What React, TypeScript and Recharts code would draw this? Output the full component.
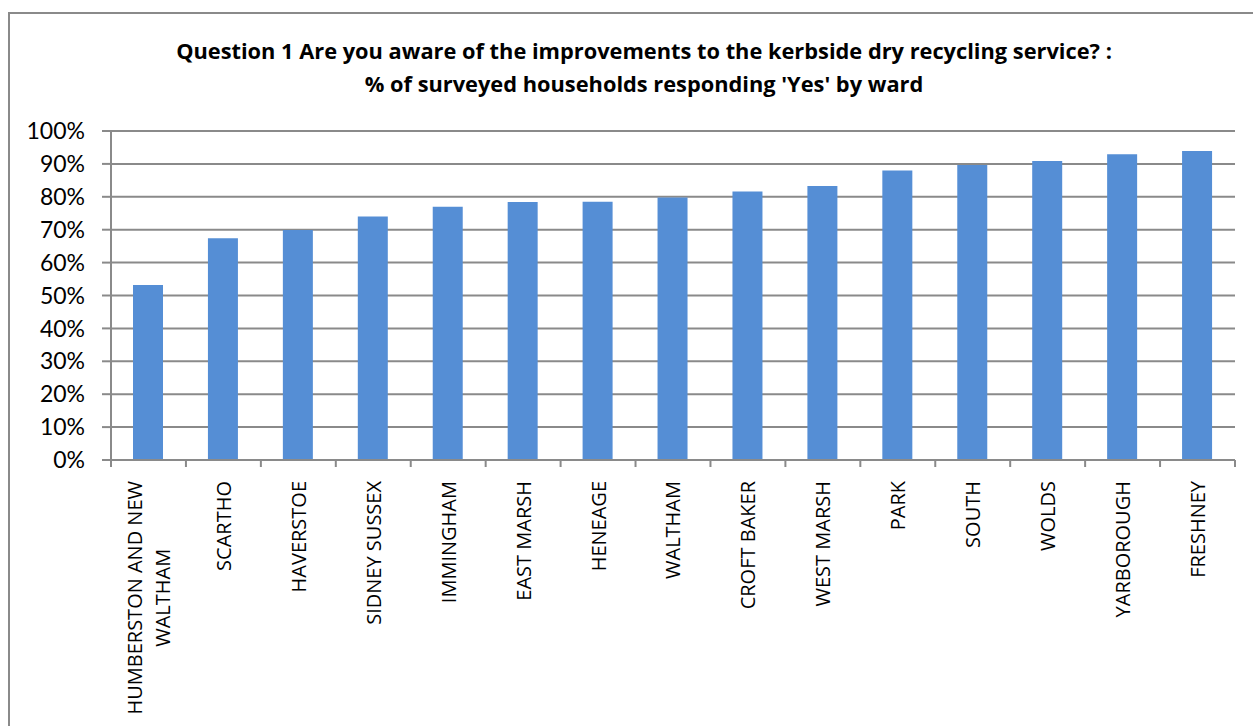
import React from 'react'
import { BarChart, Bar, XAxis, YAxis, CartesianGrid } from 'recharts'

const wards = [
  'HUMBERSTON AND NEW WALTHAM',
  'SCARTHO',
  'HAVERSTOE',
  'SIDNEY SUSSEX',
  'IMMINGHAM',
  'EAST MARSH',
  'HENEAGE',
  'WALTHAM',
  'CROFT BAKER',
  'WEST MARSH',
  'PARK',
  'SOUTH',
  'WOLDS',
  'YARBOROUGH',
  'FRESHNEY',
]
const yesPct = [53.2, 67.4, 69.9, 74.0, 77.0, 78.4, 78.5, 79.8, 81.6, 83.3, 88.0, 89.7, 90.9, 92.9, 93.9]
const pctTicks = [0, 10, 20, 30, 40, 50, 60, 70, 80, 90, 100]
const titleLines = [
  'Question 1 Are you aware of the improvements to the kerbside dry recycling service? :',
  "% of surveyed households responding 'Yes' by ward",
]

const data = wards.map((ward, i) => ({ ward, yes: yesPct[i] }))

const W = 1253
const H = 726
const PLOT_LEFT = 111
const PLOT_RIGHT = 1235
const PLOT_TOP = 131
const PLOT_BOTTOM = 460
const GREY = '#8a8a8a'
const LABEL_SIZE = 20
const LABEL_FONT = `${LABEL_SIZE}px 'Open Sans'`

let ctx: CanvasRenderingContext2D | null = null
function measure(s: string) {
  if (!ctx) ctx = document.createElement('canvas').getContext('2d')
  if (!ctx) return s.length * LABEL_SIZE * 0.62
  ctx.font = LABEL_FONT
  return ctx.measureText(s).width
}

// excel-ish word wrap of long category names
function wrap(text: string, maxW: number) {
  const words = text.split(' ')
  const lines: string[] = []
  let cur = ''
  for (const w of words) {
    const next = cur ? cur + ' ' + w : w
    if (cur && measure(next) > maxW) {
      lines.push(cur)
      cur = w
    } else cur = next
  }
  if (cur) lines.push(cur)
  return lines
}

function WardTick(props: any) {
  const { x, y, payload, index } = props
  const band = (PLOT_RIGHT - PLOT_LEFT) / wards.length
  const lines = wrap(String(payload.value), 280)
  const longest = Math.max(...lines.map(measure))
  const lineH = 28.7
  const cy = y + 21 + longest / 2
  return (
    <g>
      <line x1={x - band / 2} x2={x - band / 2} y1={y} y2={y + 7} stroke={GREY} strokeWidth={2} />
      {index === wards.length - 1 && (
        <line x1={x + band / 2} x2={x + band / 2} y1={y} y2={y + 7} stroke={GREY} strokeWidth={2} />
      )}
      <text
        transform={`rotate(-90, ${x}, ${cy})`}
        x={x}
        y={cy}
        textAnchor="middle"
        fontFamily="'Open Sans'"
        fontSize={LABEL_SIZE}
        fill="#000"
      >
        {lines.map((l, i) => (
          <tspan key={i} x={x} y={cy + (i - (lines.length - 1) / 2) * lineH} dominantBaseline="central">
            {l}
          </tspan>
        ))}
      </text>
    </g>
  )
}

export default function App() {
  return (
    <div style={{ position: 'absolute', left: 0, top: 0, width: W, height: H, overflow: 'hidden', background: '#fff' }}>
      <div
        style={{
          position: 'absolute',
          left: 8,
          top: 12,
          width: W,
          height: H,
          borderLeft: `2px solid ${GREY}`,
          borderTop: `2px solid ${GREY}`,
        }}
      />
      <svg width={W} height={110} style={{ position: 'absolute', left: 0, top: 0 }}>
        {titleLines.map((t, i) => (
          <text
            key={i}
            x={644}
            y={59 + i * 33}
            textAnchor="middle"
            fontFamily="'Open Sans'"
            fontWeight="bold"
            fontSize={21.8}
            fill="#000"
          >
            {t}
          </text>
        ))}
      </svg>
      <div style={{ position: 'absolute', left: 0, top: 0 }}>
        <BarChart
          width={W}
          height={H}
          data={data}
          margin={{ top: PLOT_TOP, right: W - PLOT_RIGHT, bottom: 0, left: 0 }}
        >
          <CartesianGrid vertical={false} stroke={GREY} strokeWidth={2} />
          <XAxis
            dataKey="ward"
            interval={0}
            height={H - PLOT_BOTTOM}
            tickSize={0}
            tickMargin={0}
            tickLine={false}
            axisLine={{ stroke: GREY, strokeWidth: 2 }}
            tick={<WardTick />}
          />
          <YAxis
            width={PLOT_LEFT}
            domain={[0, 100]}
            ticks={pctTicks}
            interval={0}
            tickFormatter={(v) => `${v}%`}
            tickSize={9}
            tickMargin={17}
            tickLine={{ stroke: GREY, strokeWidth: 2 }}
            axisLine={{ stroke: GREY, strokeWidth: 2 }}
            tick={{ fill: '#000', fontSize: 23, fontFamily: 'Lato' }}
          />
          <Bar dataKey="yes" fill="#558ED5" barSize={30} isAnimationActive={false} />
        </BarChart>
      </div>
    </div>
  )
}
